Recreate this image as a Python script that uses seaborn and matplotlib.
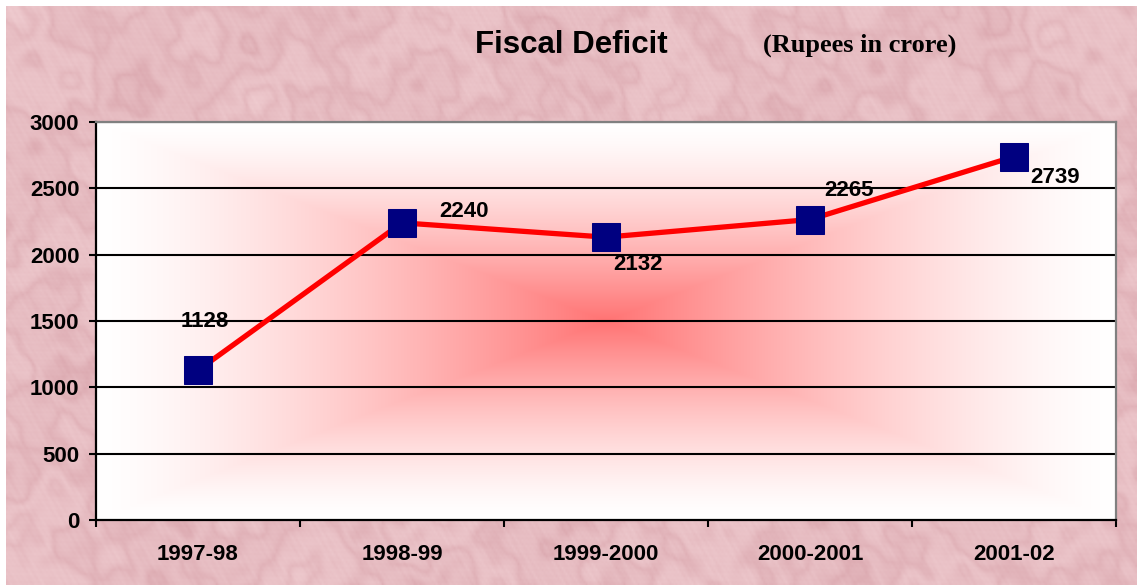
import numpy as np
import matplotlib
matplotlib.use("Agg")
import matplotlib.pyplot as plt
import seaborn as sns

# data
years = ["1997-98", "1998-99", "1999-2000", "2000-2001", "2001-02"]
deficit = [1128, 2240, 2132, 2265, 2739]
yticks = [0, 500, 1000, 1500, 2000, 2500, 3000]

# label offsets (points) and alignment for the value labels
label_offsets = [(5, 35, "center"), (27, 8, "left"), (5, -20, "left"), (10, 21, "left"), (12, -15, "left")]

sns.set_theme(style="white")
plt.rcParams["font.family"] = ["Liberation Sans", "DejaVu Sans"]
plt.rcParams.update({"text.color": "black", "xtick.color": "black", "ytick.color": "black",
                     "axes.labelcolor": "black"})

fig = plt.figure(figsize=(11.42, 5.87), dpi=100)
fig.patch.set_facecolor("white")

# pink marble-ish backdrop
bg = fig.add_axes([6 / 1142, 2 / 587, 1131 / 1142, 579 / 587])
bg.set_axis_off()
yy, xx = np.mgrid[0:290, 0:566].astype(float)
tex = np.zeros_like(xx)
waves = [(0.037, 0.051, 0.0, 1.0), (-0.058, 0.029, 1.3, 0.9), (0.083, -0.071, 2.1, 0.7),
         (0.121, 0.097, 0.7, 0.55), (-0.163, 0.139, 2.9, 0.5), (0.211, -0.177, 1.1, 0.4),
         (0.057, 0.149, 0.4, 0.6), (-0.133, -0.043, 2.2, 0.5), (0.307, 0.263, 0.9, 0.3),
         (-0.389, 0.331, 1.7, 0.25), (0.467, -0.121, 0.3, 0.2), (0.093, -0.431, 2.6, 0.2)]
for fx, fy, ph, amp in waves:
    tex += amp * np.sin(fx * xx + fy * yy + ph)
veins = np.abs(np.sin(tex * 1.1))
fine = np.sin(1.37 * xx + 0.91 * yy) * np.sin(0.83 * xx - 1.61 * yy) * np.sin(2.11 * xx + 1.73 * yy)
tex = 0.35 * veins + 0.4 * (tex - tex.min()) / (tex.max() - tex.min()) + 0.25 * (fine + 1) / 2
tex = (tex - tex.min()) / (tex.max() - tex.min())
dark = np.array([219, 168, 175]) / 255
light = np.array([240, 205, 209]) / 255
img = dark + (light - dark) * tex[..., None]
bg.imshow(img, aspect="auto", extent=[0, 1, 0, 1], interpolation="bilinear")
bg.set_xlim(0, 1)
bg.set_ylim(0, 1)

ax = fig.add_axes([96 / 1142, 67 / 587, 1020 / 1142, 398 / 587])
ax.set_xlim(-0.5, len(years) - 0.5)
ax.set_ylim(0, 3000)

# rectangular "from center" gradient fill
gy, gx = np.mgrid[-1:1:300j, -1:1:600j]
t = np.maximum(np.abs(gx), np.abs(gy))
w = (1 - t) ** 1.4
center = np.array([255, 115, 115]) / 255
grad = 1 - (1 - center) * w[..., None]
ax.imshow(grad, aspect="auto", extent=[-0.5, len(years) - 0.5, 0, 3000], zorder=0, interpolation="bilinear")

for v in yticks[1:]:
    ax.axhline(v, color="black", lw=1.5, zorder=1)

pos = np.arange(len(years))
sns.lineplot(x=pos, y=deficit, ax=ax, color="#ff0000", lw=3.8, marker="s", markersize=19.5,
             markerfacecolor="#000080", markeredgecolor="#000080", zorder=3)

for x, v, (dx, dy, ha) in zip(pos, deficit, label_offsets):
    ax.annotate(str(v), (x, v), xytext=(dx, dy), textcoords="offset points", ha=ha, va="center",
                fontsize=16, fontweight="bold", color="black", zorder=4)

ax.set_yticks(yticks)
ax.set_yticklabels([str(v) for v in yticks], fontsize=16, fontweight="bold")
ax.set_xticks(np.arange(len(years) + 1) - 0.5)
ax.set_xticklabels([])
ax.set_xticks(pos, minor=True)
ax.set_xticklabels(years, minor=True, fontsize=16, fontweight="bold")
ax.tick_params(axis="y", which="major", length=5, width=1.5, color="black", pad=7, left=True)
ax.tick_params(axis="x", which="major", length=5, width=1.5, color="black", bottom=True)
ax.tick_params(axis="x", which="minor", length=0, pad=17)
ax.grid(False)

for side in ["left", "bottom"]:
    ax.spines[side].set_color("black")
    ax.spines[side].set_linewidth(1.6)
for side in ["top", "right"]:
    ax.spines[side].set_color("#808080")
    ax.spines[side].set_linewidth(1.6)
for s in ax.spines.values():
    s.set_zorder(5)
ax.set_xlabel("")
ax.set_ylabel("")

fig.text(571 / 1142, 1 - 45 / 587, "Fiscal Deficit", ha="center", va="center", fontsize=22.5,
         fontweight="bold", color="black")
fig.text(860 / 1142, 1 - 45 / 587, "(Rupees in crore)", ha="center", va="center", fontsize=19,
         fontweight="bold", color="black", family=["Liberation Serif", "DejaVu Serif"])

fig.savefig("out.png", dpi=100)
